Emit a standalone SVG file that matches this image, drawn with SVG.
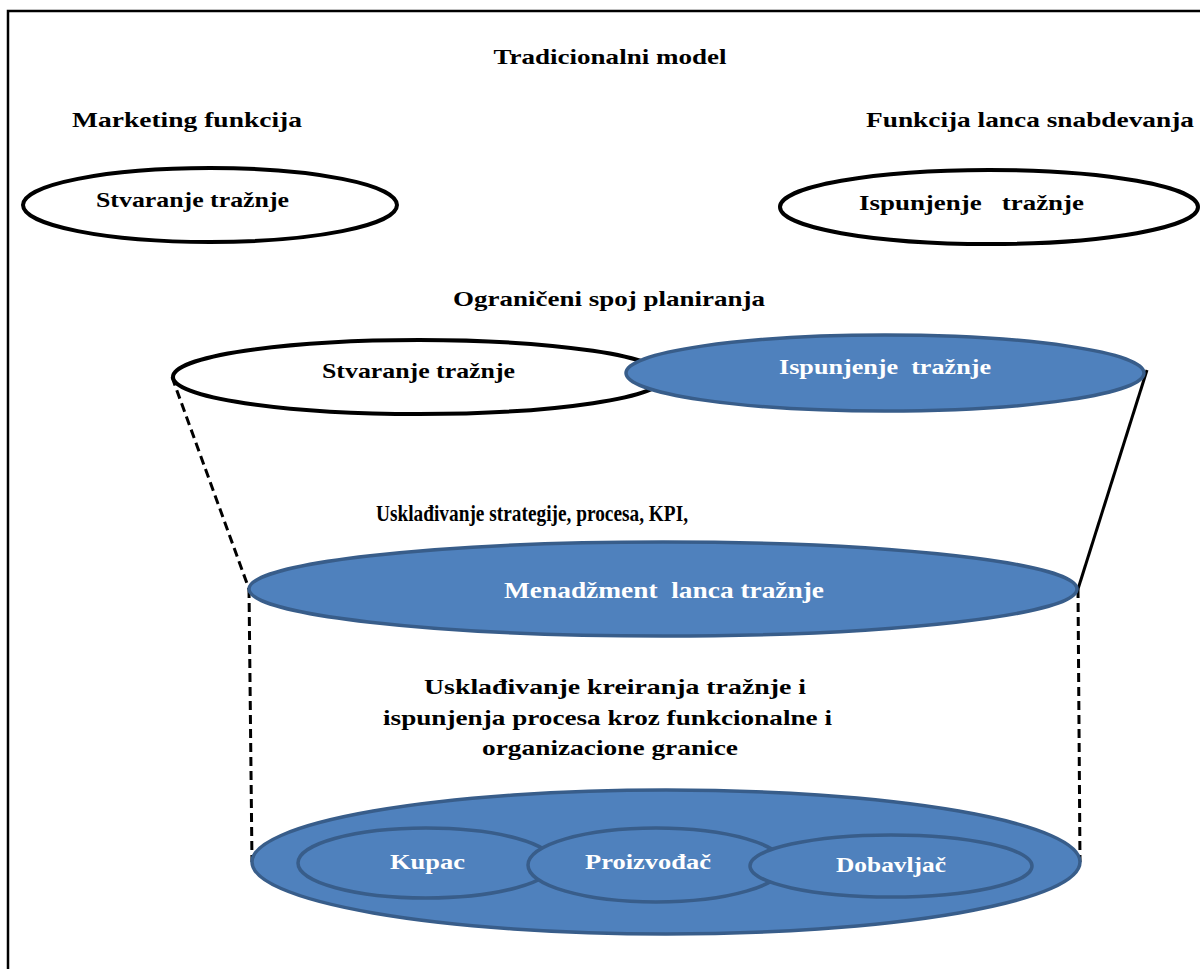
<svg xmlns="http://www.w3.org/2000/svg" width="1200" height="969" viewBox="0 0 1200 969">
  <style>
    text { font-family: "Liberation Serif", "Times New Roman", serif; font-weight: bold; font-size: 21px; white-space: pre; }
    .dark { fill: #000000; }
    .light { fill: #ffffff; }
    .outline { fill: #ffffff; stroke: #000000; stroke-width: 4; }
    .blue { fill: #4F81BD; stroke: #385D8A; stroke-width: 3.5; }
    .solid { stroke: #000000; stroke-width: 3; fill: none; }
    .dash { stroke: #000000; stroke-width: 3; fill: none; stroke-dasharray: 9 5; }
  </style>

  <!-- frame -->
  <rect x="8" y="11" width="1200" height="970" fill="#ffffff" stroke="#000000" stroke-width="2.5"/>

  <!-- headings -->
  <text class="dark" x="610" y="64" text-anchor="middle" textLength="233" lengthAdjust="spacingAndGlyphs">Tradicionalni model</text>
  <text class="dark" x="72" y="127" textLength="230" lengthAdjust="spacingAndGlyphs">Marketing funkcija</text>
  <text class="dark" x="866" y="127" textLength="328" lengthAdjust="spacingAndGlyphs">Funkcija lanca snabdevanja</text>
  <text class="dark" x="453" y="306" textLength="312" lengthAdjust="spacingAndGlyphs">Ograničeni spoj planiranja</text>
  <text class="dark" x="376" y="521" style="font-size:24px" textLength="312" lengthAdjust="spacingAndGlyphs">Usklađivanje strategije, procesa, KPI,</text>
  <text class="dark" x="424" y="694" textLength="382" lengthAdjust="spacingAndGlyphs">Usklađivanje kreiranja tražnje i</text>
  <text class="dark" x="383" y="725" textLength="449" lengthAdjust="spacingAndGlyphs">ispunjenja procesa kroz funkcionalne i</text>
  <text class="dark" x="482" y="755" textLength="256" lengthAdjust="spacingAndGlyphs">organizacione granice</text>

  <!-- connectors: funnel sides -->
  <g id="connectors">
    <line class="dash" x1="172" y1="377" x2="249" y2="589"/>
    <line class="dash" x1="249" y1="589" x2="252" y2="862"/>
    <line class="solid" x1="1147" y1="370" x2="1078" y2="589"/>
    <line class="dash" x1="1078" y1="589" x2="1080" y2="862"/>
  </g>

  <g id="trad-stvaranje">
    <ellipse class="outline" cx="210" cy="205" rx="187" ry="37"/>
    <text class="dark" x="96" y="207" textLength="193" lengthAdjust="spacingAndGlyphs">Stvaranje tražnje</text>
  </g>

  <g id="trad-ispunjenje">
    <ellipse class="outline" cx="989" cy="207" rx="209" ry="37"/>
    <text class="dark" x="859" y="210" textLength="225" lengthAdjust="spacingAndGlyphs">Ispunjenje   tražnje</text>
  </g>

  <g id="spoj-stvaranje">
    <ellipse class="outline" cx="419" cy="377" rx="246" ry="37"/>
    <text class="dark" x="322" y="378" textLength="193" lengthAdjust="spacingAndGlyphs">Stvaranje tražnje</text>
  </g>

  <g id="spoj-ispunjenje">
    <ellipse class="blue" cx="885" cy="373" rx="259" ry="38"/>
    <text class="light" x="779" y="374" textLength="212" lengthAdjust="spacingAndGlyphs">Ispunjenje  tražnje</text>
  </g>

  <g id="menadzment">
    <ellipse class="blue" cx="663" cy="589" rx="414" ry="47"/>
    <text class="light" x="504" y="598" style="font-size:23px" textLength="320" lengthAdjust="spacingAndGlyphs">Menadžment  lanca tražnje</text>
  </g>

  <g id="lanac">
    <ellipse class="blue" cx="666" cy="862" rx="414" ry="72"/>
  </g>

  <g id="kupac">
    <ellipse class="blue" cx="426" cy="863" rx="128" ry="35"/>
    <text class="light" x="390" y="869" textLength="75" lengthAdjust="spacingAndGlyphs">Kupac</text>
  </g>

  <g id="proizvodjac">
    <ellipse class="blue" cx="656" cy="865" rx="128" ry="37"/>
    <text class="light" x="585" y="869" textLength="126" lengthAdjust="spacingAndGlyphs">Proizvođač</text>
  </g>

  <g id="dobavljac">
    <ellipse class="blue" cx="891" cy="866" rx="141" ry="31"/>
    <text class="light" x="836" y="872" textLength="110" lengthAdjust="spacingAndGlyphs">Dobavljač</text>
  </g>
</svg>
